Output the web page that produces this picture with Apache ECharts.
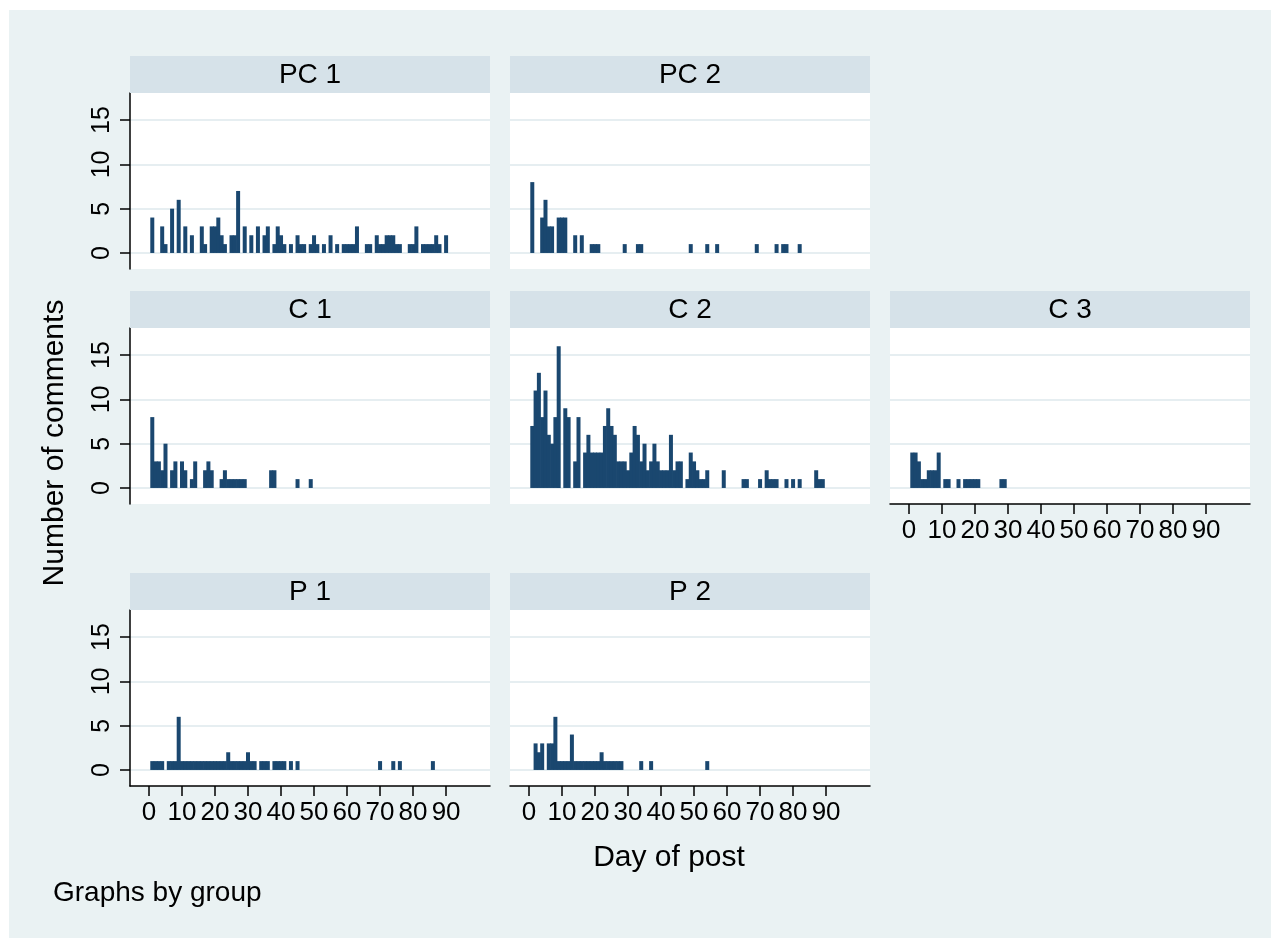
<!DOCTYPE html>
<html>
<head>
<meta charset="utf-8">
<script src="https://cdn.jsdelivr.net/npm/echarts@6/dist/echarts.min.js"></script>
<style>
  html, body { margin: 0; padding: 0; background: #fff; }
  #chart { width: 1282px; height: 938px; }
</style>
</head>
<body>
<div id="chart"></div>
<script>
// [day of post, number of comments] per group
var pc1 = [[1,4],[4,3],[5,1],[7,5],[9,6],[11,3],[13,2],[16,3],[17,1],[19,3],[20,3],[21,4],[22,2],[23,1],
  [25,2],[26,2],[27,7],[29,3],[31,2],[33,3],[35,2],[36,3],[38,1],[39,3],[40,2],[41,1],[43,1],[45,2],
  [46,1],[47,1],[49,1],[50,2],[51,1],[53,1],[55,2],[57,1],[59,1],[60,1],[61,1],[62,1],[63,3],[66,1],
  [67,1],[69,2],[70,1],[71,1],[72,2],[73,2],[74,2],[75,1],[76,1],[79,1],[80,1],[81,3],[83,1],[84,1],
  [85,1],[86,1],[87,2],[88,1],[90,2]];
var pc2 = [[1,8],[4,4],[5,6],[6,3],[7,3],[9,4],[10,4],[11,4],[14,2],[16,2],[19,1],[20,1],[21,1],[29,1],
  [33,1],[34,1],[49,1],[54,1],[57,1],[69,1],[75,1],[77,1],[78,1],[82,1]];
var c1 = [[1,8],[2,3],[3,3],[4,2],[5,5],[7,2],[8,3],[10,3],[11,2],[13,1],[14,3],[17,2],[18,3],[19,2],
  [22,1],[23,2],[24,1],[25,1],[26,1],[27,1],[28,1],[29,1],[37,2],[38,2],[45,1],[49,1]];
var c2 = [[1,7],[2,11],[3,13],[4,8],[5,11],[6,6],[7,5],[8,8],[9,16],[11,9],[12,8],[14,3],[15,8],[17,4],
  [18,6],[19,4],[20,4],[21,4],[22,4],[23,7],[24,9],[25,7],[26,6],[27,3],[28,3],[29,3],[30,2],[31,4],
  [32,7],[33,6],[34,3],[35,5],[36,2],[37,3],[38,5],[39,3],[40,2],[41,2],[42,2],[43,6],[44,2],[45,3],
  [46,3],[48,1],[49,4],[50,3],[51,2],[52,1],[53,1],[54,2],[59,2],[65,1],[66,1],[70,1],[72,2],[73,1],
  [74,1],[75,1],[78,1],[80,1],[82,1],[87,2],[88,1],[89,1]];
var c3 = [[1,4],[2,4],[3,3],[4,1],[5,1],[6,2],[7,2],[8,2],[9,4],[11,1],[12,1],[15,1],[17,1],[18,1],
  [19,1],[20,1],[21,1],[28,1],[29,1]];
var p1 = [[1,1],[2,1],[3,1],[4,1],[6,1],[7,1],[8,1],[9,6],[10,1],[11,1],[12,1],[13,1],[14,1],[15,1],
  [16,1],[17,1],[18,1],[19,1],[20,1],[21,1],[22,1],[23,1],[24,2],[25,1],[26,1],[27,1],[28,1],[29,1],
  [30,2],[31,1],[32,1],[34,1],[35,1],[36,1],[38,1],[39,1],[40,1],[41,1],[43,1],[45,1],[70,1],[74,1],
  [76,1],[86,1]];
var p2 = [[2,3],[3,2],[4,3],[6,3],[7,3],[8,6],[9,1],[10,1],[11,1],[12,1],[13,4],[14,1],[15,1],[16,1],
  [17,1],[18,1],[19,1],[20,1],[21,1],[22,2],[23,1],[24,1],[25,1],[26,1],[27,1],[28,1],[34,1],[37,1],
  [54,1]];

var xTicks = [0, 10, 20, 30, 40, 50, 60, 70, 80, 90];
var yTicks = [0, 5, 10, 15];

var FONT = '"Liberation Sans", Arial, sans-serif';
var NAVY = '#1a476f';

var panels = [
  { title: 'PC 1', data: pc1, left: 130, top: 93,  yAx: true,  xAx: false },
  { title: 'PC 2', data: pc2, left: 510, top: 93,  yAx: false, xAx: false },
  { title: 'C 1',  data: c1,  left: 130, top: 328, yAx: true,  xAx: false },
  { title: 'C 2',  data: c2,  left: 510, top: 328, yAx: false, xAx: false },
  { title: 'C 3',  data: c3,  left: 890, top: 328, yAx: false, xAx: true },
  { title: 'P 1',  data: p1,  left: 130, top: 610, yAx: true,  xAx: true },
  { title: 'P 2',  data: p2,  left: 510, top: 610, yAx: false, xAx: true }
];

var axisStyle = { color: '#000', width: 1.5 };

var graphic = [
  { type: 'rect', z: 100, shape: { x: 0, y: 0, width: 1282, height: 10 }, style: { fill: '#fff' } },
  { type: 'rect', z: 100, shape: { x: 0, y: 0, width: 9, height: 938 }, style: { fill: '#fff' } },
  { type: 'rect', z: 100, shape: { x: 1271, y: 0, width: 11, height: 938 }, style: { fill: '#fff' } },
  { type: 'text', z: 100, x: 55, y: 443, rotation: Math.PI / 2,
    style: { text: 'Number of comments', fontSize: 30, fontFamily: FONT, fill: '#000', align: 'center', verticalAlign: 'middle' } },
  { type: 'text', z: 100, x: 669, y: 858,
    style: { text: 'Day of post', fontSize: 30, fontFamily: FONT, fill: '#000', align: 'center', verticalAlign: 'middle' } },
  { type: 'text', z: 100, x: 53, y: 893,
    style: { text: 'Graphs by group', fontSize: 28, fontFamily: FONT, fill: '#000', align: 'left', verticalAlign: 'middle' } }
];

panels.forEach(function (p) {
  graphic.push({ type: 'rect', z: 100, shape: { x: p.left, y: p.top - 37, width: 360, height: 37 },
    style: { fill: '#d6e2e9' } });
  graphic.push({ type: 'text', z: 101, x: p.left + 180, y: p.top - 18,
    style: { text: p.title, fontSize: 28, fontFamily: FONT, fill: '#000', align: 'center', verticalAlign: 'middle' } });
});

var option = {
  animation: false,
  backgroundColor: '#eaf2f3',
  grid: panels.map(function (p) {
    return { left: p.left, top: p.top, width: 360, height: 176, show: true,
      backgroundColor: '#fff', borderWidth: 0 };
  }),
  xAxis: panels.map(function (p, i) {
    return {
      gridIndex: i, type: 'value', min: -5.75, max: 103.3, show: p.xAx,
      axisLine: { onZero: false, lineStyle: axisStyle },
      axisTick: { customValues: xTicks, length: 10, lineStyle: axisStyle },
      axisLabel: { customValues: xTicks, fontSize: 26, fontFamily: FONT, color: '#000', margin: 14 },
      splitLine: { show: false }
    };
  }),
  yAxis: panels.map(function (p, i) {
    return {
      gridIndex: i, type: 'value', min: -1.81, max: 18.06,
      axisLine: { show: p.yAx, onZero: false, lineStyle: axisStyle },
      axisTick: { show: p.yAx, customValues: yTicks, length: 10, lineStyle: axisStyle },
      axisLabel: { show: p.yAx, customValues: yTicks, rotate: 90, fontSize: 25, fontFamily: FONT,
        color: '#000', margin: 15 },
      splitLine: { show: true, lineStyle: { color: '#e6eef1', width: 2 } }
    };
  }),
  series: panels.map(function (p, i) {
    return {
      name: p.title, type: 'bar', xAxisIndex: i, yAxisIndex: i, data: p.data,
      barWidth: 4, silent: true,
      itemStyle: { color: NAVY }
    };
  }),
  graphic: graphic
};

echarts.init(document.getElementById('chart')).setOption(option);
</script>
</body>
</html>
